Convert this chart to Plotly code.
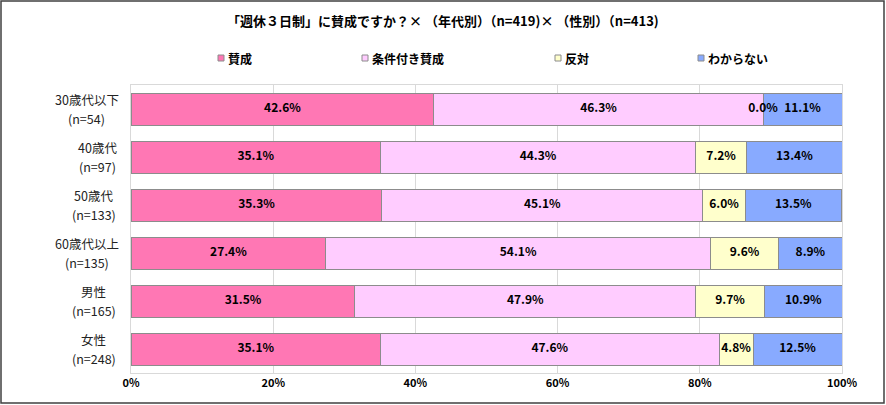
import plotly.graph_objects as go

categories = ["30歳代以下", "40歳代", "50歳代", "60歳代以上", "男性", "女性"]
sample_sizes = ["(n=54)", "(n=97)", "(n=133)", "(n=135)", "(n=165)", "(n=248)"]
series_names = ["賛成", "条件付き賛成", "反対", "わからない"]
agree = [42.6, 35.1, 35.3, 27.4, 31.5, 35.1]
conditional = [46.3, 44.3, 45.1, 54.1, 47.9, 47.6]
oppose = [0.0, 7.2, 6.0, 9.6, 9.7, 4.8]
unknown = [11.1, 13.4, 13.5, 8.9, 10.9, 12.5]
x_ticks = [0, 20, 40, 60, 80, 100]
x_tick_labels = ["0%", "20%", "40%", "60%", "80%", "100%"]
title_text = "「週休３日制」に賛成ですか？× （年代別）（n=419)× （性別）（n=413)"

series_values = [agree, conditional, oppose, unknown]
colors = ["#FF77B4", "#FFCCFF", "#FFFFCC", "#88AAFF"]

W, H = 886, 405
L, R, T, B = 131, 842, 85, 373
FONT = "Noto Sans CJK JP"

def px_x(p):
    return (p - L) / (R - L)

def px_y(p):
    return (B - p) / (B - T)

def text_width(s, size):
    w = 0.0
    for ch in s:
        w += size if ord(ch) > 0x2E7F else size * 0.58
    return w

fig = go.Figure()
for name, vals, col in zip(series_names, series_values, colors):
    fig.add_trace(go.Bar(
        y=categories, x=vals, name=name, orientation="h",
        marker=dict(color=col, line=dict(color="#8C8C8C", width=1)),
        showlegend=False, hoverinfo="skip",
    ))

# value labels centered in each segment
lx, ly, lt = [], [], []
for i, cat in enumerate(categories):
    start = 0.0
    for vals in series_values:
        v = vals[i]
        lx.append(start + v / 2)
        ly.append(cat)
        lt.append(f"{v:.1f}%")
        start += v
fig.add_trace(go.Scatter(
    x=lx, y=ly, text=lt, mode="text", showlegend=False, hoverinfo="skip",
    textfont=dict(family=FONT, size=12, color="#000000", weight="bold"),
))

annotations = []
shapes = []
# category labels: two lines centered on each other, block right edge at 119px
LSIZE = 12.5
label_font = dict(family=FONT, size=LSIZE, color="#222222")
for cat, n in zip(categories, sample_sizes):
    block_w = max(text_width(cat, LSIZE), text_width(n, LSIZE))
    cx = px_x(119 - block_w / 2)
    for txt, ys in ((cat, 9.5), (n, -9.5)):
        annotations.append(dict(
            x=cx, xref="paper", y=cat, yref="y", yshift=ys,
            text=txt, showarrow=False, xanchor="center", yanchor="middle",
            font=label_font, borderpad=0,
        ))

# custom legend
legend_px = [218, 362, 555, 698]
for name, col, lp in zip(series_names, colors, legend_px):
    shapes.append(dict(
        type="rect", xref="paper", yref="paper",
        x0=px_x(lp), x1=px_x(lp + 6), y0=px_y(61), y1=px_y(55),
        fillcolor=col, line=dict(color="#8C8C8C", width=1),
    ))
    annotations.append(dict(
        x=px_x(lp + 8), xref="paper", y=px_y(58), yref="paper",
        text=name, showarrow=False, xanchor="left", yanchor="middle",
        font=dict(family=FONT, size=12, color="#000000", weight="bold"),
    ))

# title
annotations.append(dict(
    x=px_x(443), xref="paper", y=px_y(20), yref="paper",
    text=title_text, showarrow=False, xanchor="center", yanchor="middle",
    font=dict(family=FONT, size=13, color="#000000", weight="bold"),
))

# outer border
shapes.append(dict(
    type="rect", xref="paper", yref="paper",
    x0=px_x(1), x1=px_x(884), y0=px_y(403), y1=px_y(1),
    line=dict(color="#404040", width=1.5), fillcolor="rgba(0,0,0,0)",
))

fig.update_layout(
    width=W, height=H,
    margin=dict(l=L, r=W - R, t=T, b=H - B),
    barmode="stack", bargap=1 / 3,
    plot_bgcolor="white", paper_bgcolor="white",
    annotations=annotations, shapes=shapes,
    showlegend=False,
)
fig.update_xaxes(
    range=[0, 100], tickvals=x_ticks, ticktext=x_tick_labels,
    showgrid=True, gridcolor="#D9D9D9", gridwidth=1,
    showline=True, linecolor="#D9D9D9", mirror=True, zeroline=False,
    tickfont=dict(family=FONT, size=11, color="#000000", weight="bold"),
    ticks="", ticklen=0,
)
fig.update_yaxes(
    autorange="reversed", showticklabels=False, showgrid=False,
    showline=True, linecolor="#D9D9D9", mirror=True, ticks="",
)

fig.write_html(
    "out.html",
    config={"displayModeBar": False},
    post_script="document.body.style.margin='0';document.body.style.overflow='hidden';",
)
